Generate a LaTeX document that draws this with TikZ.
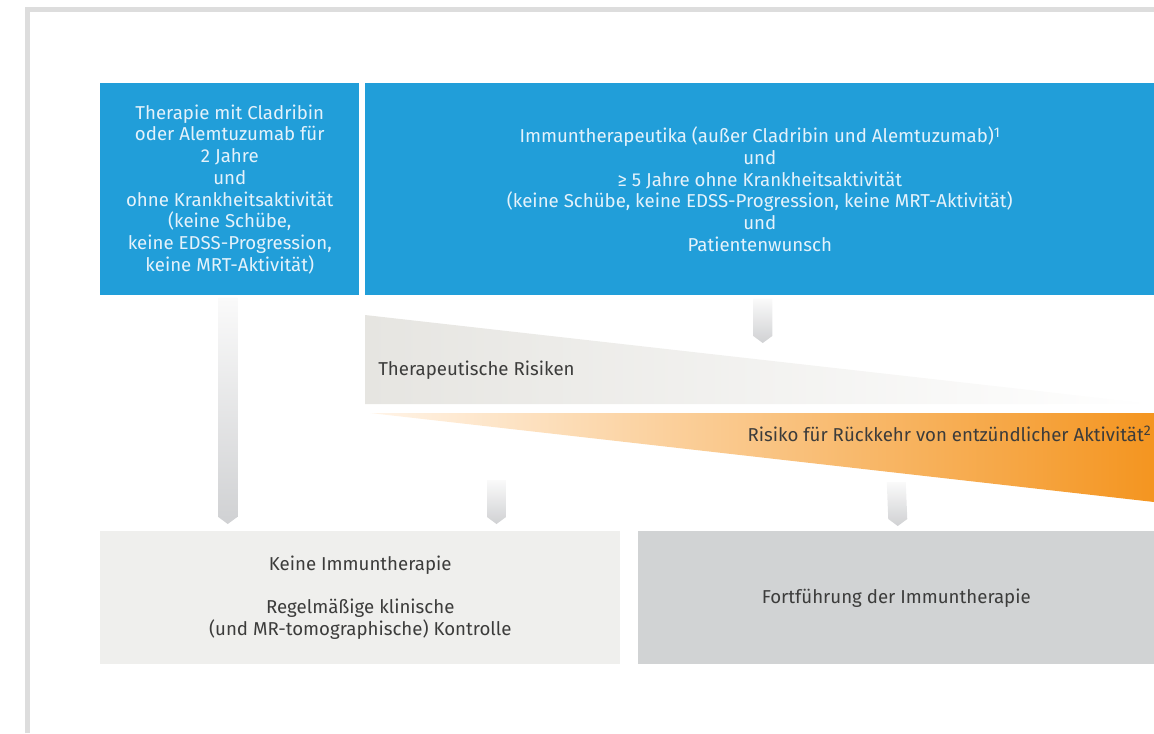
\documentclass[tikz,border=0pt]{standalone}
\usepackage{fontspec}
\setmainfont{Fira Sans}
\usepackage{tikz}
\usetikzlibrary{calc}

\definecolor{msblau}{RGB}{33,158,217}
\definecolor{msblautext}{RGB}{228,242,251}
\definecolor{mshell}{RGB}{239,239,237}
\definecolor{msgrau}{RGB}{209,211,212}
\definecolor{msrahmen}{RGB}{221,221,221}
\definecolor{mstext}{RGB}{60,60,59}
\definecolor{keilgrau}{RGB}{230,229,225}
\definecolor{keilorange}{RGB}{244,149,32}
\definecolor{keilpfirsich}{RGB}{255,244,232}
\definecolor{pfeilhell}{RGB}{250,250,250}
\definecolor{pfeildunkel}{RGB}{208,209,211}

% Pfeil: #1 oberer Mittelpunkt, #2 Spitze
\newcommand{\pfeil}[2]{%
  \shade[top color=pfeilhell, bottom color=pfeildunkel]
    ($(#1)+(-9.5,0)$) -- ($(#1)+(9.5,0)$) -- ($(#2)+(9.5,7)$) -- (#2)
    -- ($(#2)+(-9.5,7)$) -- cycle;}
% Fussnotenziffer
\newcommand{\fn}[1]{\raisebox{0.55ex}{\fontsize{10.5}{10.5}\selectfont #1}}

\begin{document}
\begin{tikzpicture}[x=0.75pt, y=0.75pt,
    blaubox/.style={fill=msblau, text=msblautext, inner sep=0pt, anchor=north west, align=center,
      font=\fontsize{14}{16.3}\selectfont},
    grauboxstil/.style={inner sep=0pt, anchor=north west, align=center, text=mstext,
      font=\fontsize{14}{16.3}\selectfont},
    keiltext/.style={text=mstext, inner sep=0pt, font=\fontsize{14}{16.3}\selectfont}]
    \useasboundingbox (0,0) rectangle (1154,-733);
    % Rahmen
    \draw[msrahmen, line width=3.75pt] (27.5,-733) -- (27.5,-9.5) -- (1154,-9.5);

    % Obere Kaesten
    \node[blaubox, minimum width=259*0.75pt, minimum height=212*0.75pt] (links) at (100,-83)
      {Therapie mit Cladribin\\oder Alemtuzumab für\\2 Jahre\\und\\ohne Krankheitsaktivität\\(keine Schübe,\\keine EDSS-Progression,\\keine MRT-Aktivität)};
    \node[blaubox, minimum width=789*0.75pt, minimum height=212*0.75pt] (rechts) at (365,-83)
      {Immuntherapeutika (außer Cladribin und Alemtuzumab)\fn{1}\\und\\≥ 5 Jahre ohne Krankheitsaktivität\\(keine Schübe, keine EDSS-Progression, keine MRT-Aktivität)\\und\\Patientenwunsch};

    % Untere Kaesten
    \node[grauboxstil, fill=mshell, minimum width=520*0.75pt, minimum height=133*0.75pt] (keine) at (100,-531)
      {Keine Immuntherapie\\[16.3pt]Regelmäßige klinische\\(und MR-tomographische) Kontrolle};
    \node[grauboxstil, fill=msgrau, minimum width=516*0.75pt, minimum height=133*0.75pt] (fort) at (638,-531)
      {Fortführung der Immuntherapie};

    % Keile
    \shade[left color=keilgrau, right color=white] (365,-315) -- (1154,-404) -- (365,-404) -- cycle;
    \node[keiltext, anchor=west] (risiken) at (378,-370) {Therapeutische Risiken};
    \shade[left color=keilpfirsich, right color=keilorange] (370,-413) -- (1154,-413) -- (1154,-502) -- cycle;
    \node[keiltext, anchor=east] (rueckkehr) at (1151,-434) {Risiko für Rückkehr von entzündlicher Aktivität\fn{2}};

    % Pfeile
    \coordinate (p1) at ($(links.south)+(-2,-2)$);
    \coordinate (s1) at (p1 |- 0,-524);
    \pfeil{p1}{s1}
    \coordinate (p2) at ($(rechts.south)+(3,-3)$);
    \coordinate (s2) at (p2 |- 0,-343);
    \pfeil{p2}{s2}
    \coordinate (p3) at (496.5,-480);
    \coordinate (s3) at ($(p3 |- keine.north)+(0,7)$);
    \pfeil{p3}{s3}
    \coordinate (p4) at (fort.north |- 0,-482);
    \coordinate (s4) at ($(fort.north)+(1.5,5)$);
    \pfeil{p4}{s4}
\end{tikzpicture}
\end{document}
